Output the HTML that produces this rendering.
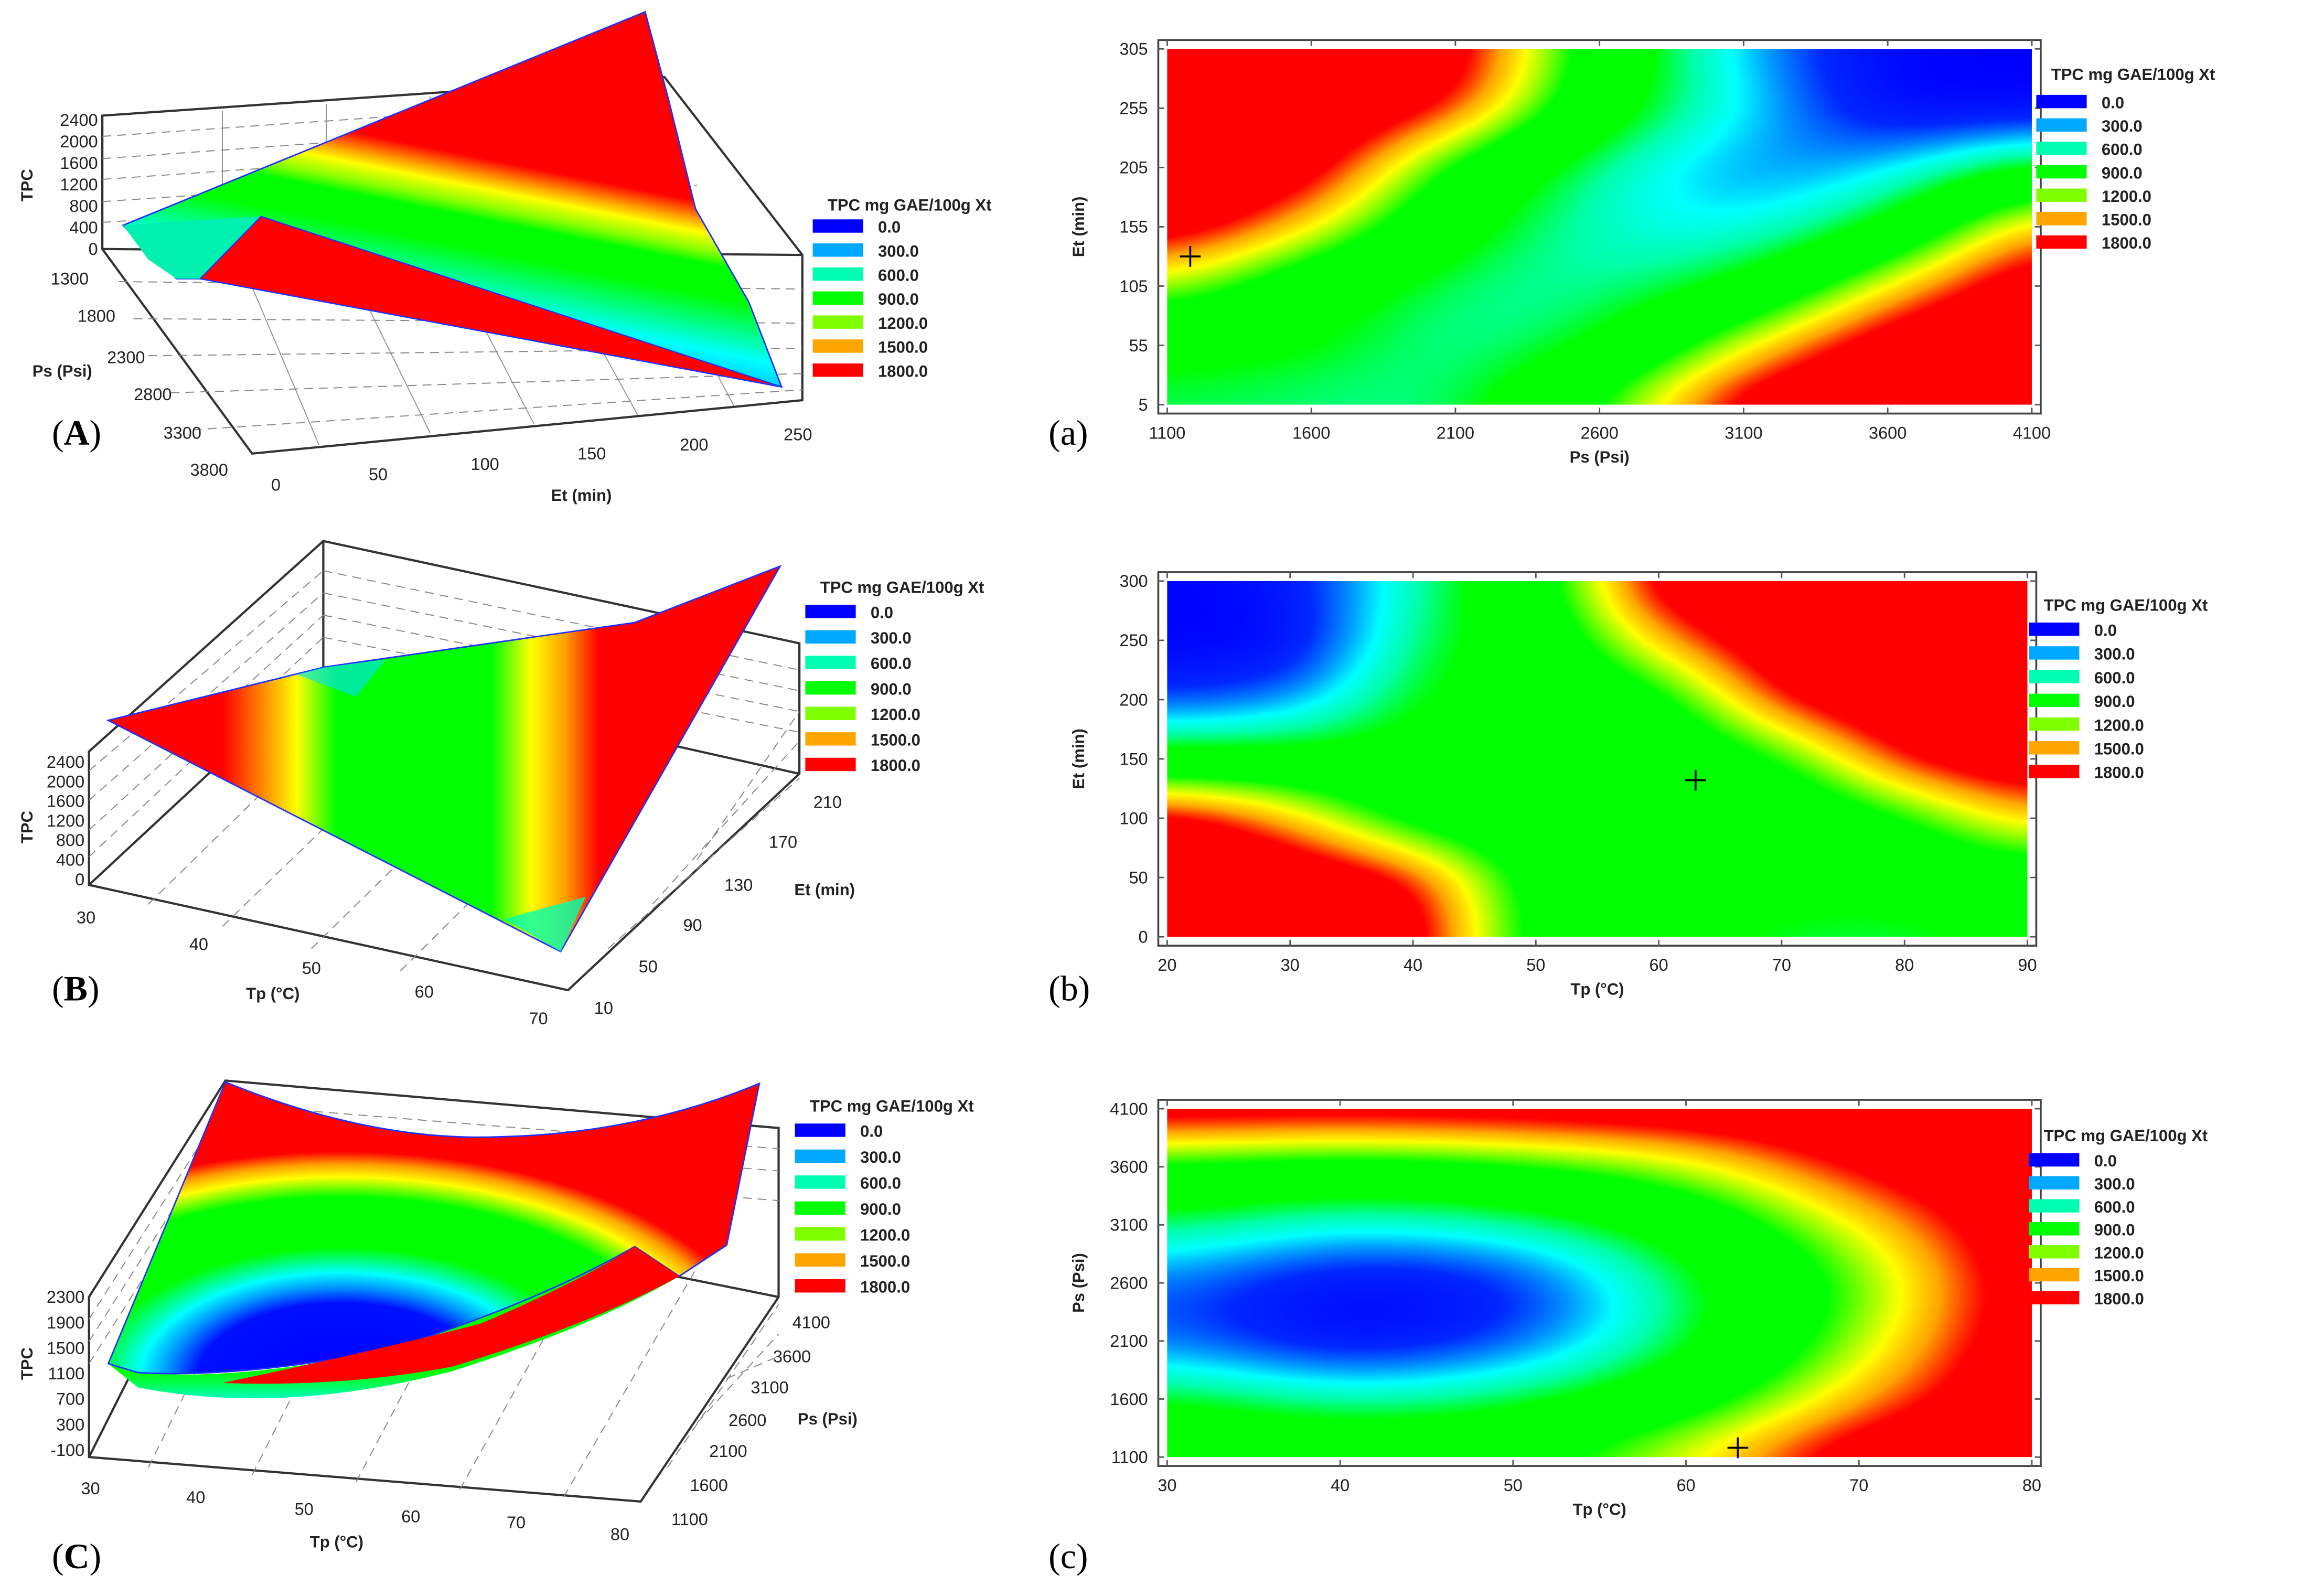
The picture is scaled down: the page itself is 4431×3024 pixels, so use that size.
<!DOCTYPE html>
<html><head><meta charset="utf-8">
<style>
html,body{margin:0;padding:0;background:#fff;overflow:hidden}
#wrap{position:absolute;left:0;top:0;width:1567px;height:1070px;transform:scale(2.8277,2.8262);transform-origin:0 0;font-family:"Liberation Sans",Arial,sans-serif}
svg{position:absolute;left:0;top:0}
canvas{position:absolute}
.t{font-family:"Liberation Sans",Arial,sans-serif;font-size:11.5px;fill:#222}
.b{font-weight:bold;font-size:11px;fill:#222}
.lab{font-family:"Liberation Serif",serif;font-size:24px;fill:#000}
</style></head><body>
<div id="wrap">
<canvas id="ca" style="left:787px;top:33px;width:583px;height:240px"></canvas>
<canvas id="cb" style="left:787px;top:392px;width:580px;height:240px"></canvas>
<canvas id="cc" style="left:787px;top:748px;width:583px;height:235px"></canvas>
<svg id="s" width="1567" height="1070" viewBox="0 0 1567 1070">
<defs>
<linearGradient id="gA" gradientUnits="userSpaceOnUse" x1="270" y1="60" x2="230" y2="260">
<stop offset="0" stop-color="#ff0000"/><stop offset="0.17" stop-color="#ff0000"/><stop offset="0.23" stop-color="#ffa000"/><stop offset="0.27" stop-color="#ffff00"/><stop offset="0.33" stop-color="#80ff00"/><stop offset="0.37" stop-color="#00ff00"/><stop offset="0.47" stop-color="#00ff00"/><stop offset="0.65" stop-color="#00ffff"/><stop offset="0.8" stop-color="#00a0ff"/><stop offset="0.95" stop-color="#0000ff"/></linearGradient>
<linearGradient id="gB" gradientUnits="userSpaceOnUse" x1="73" y1="0" x2="526" y2="0">
<stop offset="0" stop-color="#ff0000"/><stop offset="0.17" stop-color="#ff0000"/><stop offset="0.24" stop-color="#ffa000"/><stop offset="0.28" stop-color="#ffff00"/><stop offset="0.34" stop-color="#00ff00"/><stop offset="0.57" stop-color="#00ff00"/><stop offset="0.63" stop-color="#ffff00"/><stop offset="0.68" stop-color="#ffa000"/><stop offset="0.73" stop-color="#ff0000"/><stop offset="1" stop-color="#ff0000"/></linearGradient>
<radialGradient id="gC" gradientUnits="userSpaceOnUse" cx="230" cy="930" r="170" gradientTransform="translate(230,930) scale(1.9,1) translate(-230,-930)">
<stop offset="0" stop-color="#0000ff"/><stop offset="0.3" stop-color="#0010ff"/><stop offset="0.36" stop-color="#0090ff"/><stop offset="0.42" stop-color="#00ffff"/><stop offset="0.52" stop-color="#00ff00"/><stop offset="0.72" stop-color="#00ff00"/><stop offset="0.8" stop-color="#ffff00"/><stop offset="0.85" stop-color="#ffa000"/><stop offset="0.9" stop-color="#ff0000"/><stop offset="1" stop-color="#ff0000"/></radialGradient>
<linearGradient id="gRim" gradientUnits="userSpaceOnUse" x1="0" y1="925" x2="0" y2="945">
<stop offset="0" stop-color="#00ff00"/><stop offset="0.5" stop-color="#00ff60"/><stop offset="1" stop-color="#00ffd0"/></linearGradient>
</defs>
<g id="g3d"></g>
<g id="gax"></g>
<g id="gleg"></g>
<text class="lab" x="35" y="300">(<tspan font-weight="bold">A</tspan>)</text>
<text class="lab" x="707" y="300">(a)</text>
<text class="lab" x="35" y="675">(<tspan font-weight="bold">B</tspan>)</text>
<text class="lab" x="707" y="675">(b)</text>
<text class="lab" x="35" y="1058">(<tspan font-weight="bold">C</tspan>)</text>
<text class="lab" x="707" y="1058">(c)</text>
</svg>
</div>
<script>
// ---- data: contour a (Ps x Et) ----
const aX=[1100,1600,2100,2600,3100,3600,4100];
const aY=[305,255,205,155,105,55,5];
const aZ=[[1800,1800,1800,1000,400,0,0],[1800,1800,1700,900,500,0,0],[1800,1800,1050,600,300,400,900],[1800,1450,850,550,450,800,1600],[1350,900,650,600,800,1450,1800],[850,800,600,750,1400,1800,1800],[700,650,650,1200,1800,1800,1800]];
const aTicksX=[1100,1600,2100,2600,3100,3600,4100];
const aTicksY=[5,55,105,155,205,255,305];
const aCross=[1180,130];
// ---- contour b (Tp x Et) ----
const bX=[20,30,40,50,60,70,80,90];
const bY=[300,250,200,150,100,50,0];
const bZ=[[0,100,600,1000,1800,1800,1800,1800],[0,0,700,900,1500,1800,1800,1800],[200,300,800,900,1000,1700,1800,1800],[900,900,900,900,900,1100,1700,1800],[1800,1500,1000,900,900,900,1100,1500],[1800,1800,1700,1000,900,900,900,1000],[1800,1800,1800,1000,900,700,700,800]];
const bTicksX=[20,30,40,50,60,70,80,90];
const bTicksY=[0,50,100,150,200,250,300];
const bCross=[63,132];
// ---- contour c (Tp x Ps) ----
const cX=[30,40,50,60,70,80];
const cY=[4100,3600,3100,2600,2100,1600,1100];
const cZ=[[1800,1800,1800,1800,1800,1800],[1100,1000,1100,1300,1700,1800],[700,500,600,900,1400,1800],[300,0,100,700,1200,1800],[300,0,200,700,1300,1800],[800,600,700,1000,1500,1800],[1100,1000,1100,1400,1800,1800]];
const cTicksX=[30,40,50,60,70,80];
const cTicksY=[1100,1600,2100,2600,3100,3600,4100];
const cCross=[63,1180];
// ---- legend ----
const legVals=["0.0","300.0","600.0","900.0","1200.0","1500.0","1800.0"];
const legCols=["#0000ff","#00a8ff","#00ffb0","#00ff00","#80ff00","#ffa500","#ff0000"];

const NS="http://www.w3.org/2000/svg";
function mk(tag,attrs,parent,txt){const e=document.createElementNS(NS,tag);for(const k in attrs)e.setAttribute(k,attrs[k]);if(txt!==undefined)e.textContent=txt;parent.appendChild(e);return e;}
const stops=[[0,0,0,255],[200,0,40,255],[350,0,150,255],[480,0,255,255],[620,0,255,170],[780,0,255,0],[1150,0,255,0],[1280,150,255,0],[1380,255,255,0],[1500,255,165,0],[1620,255,0,0]];
function cmap(v){if(v<=0)return[0,0,255];if(v>=1620)return[255,0,0];for(let i=1;i<stops.length;i++){if(v<=stops[i][0]){const a=stops[i-1],b=stops[i],t=(v-a[0])/(b[0]-a[0]);return[a[1]+(b[1]-a[1])*t,a[2]+(b[2]-a[2])*t,a[3]+(b[3]-a[3])*t];}}}
function bil(Z,u,v){const R=Z.length,C=Z[0].length;const c0=Math.min(C-2,Math.floor(u)),r0=Math.min(R-2,Math.floor(v));const tu=u-c0,tv=v-r0;
  return (Z[r0][c0]*(1-tu)+Z[r0][c0+1]*tu)*(1-tv)+(Z[r0+1][c0]*(1-tu)+Z[r0+1][c0+1]*tu)*tv;}
function boxBlur(F,w,h,rx,ry){
  const T=new Float32Array(w*h);
  for(let y=0;y<h;y++){for(let x=0;x<w;x++){let s=0,n=0;for(let k=-rx;k<=rx;k++){const xx=Math.max(0,Math.min(w-1,x+k));s+=F[y*w+xx];n++;}T[y*w+x]=s/n;}}
  for(let x=0;x<w;x++){for(let y=0;y<h;y++){let s=0,n=0;for(let k=-ry;k<=ry;k++){const yy=Math.max(0,Math.min(h-1,y+k));s+=T[yy*w+x];n++;}F[y*w+x]=s/n;}}
}
function heat(id,Z){const cv=document.getElementById(id);const w=Math.round(parseFloat(cv.style.width)),h=Math.round(parseFloat(cv.style.height));cv.width=w;cv.height=h;const ctx=cv.getContext('2d');const C=Z[0].length,R=Z.length;
  const F=new Float32Array(w*h);
  for(let y=0;y<h;y++)for(let x=0;x<w;x++)F[y*w+x]=bil(Z,x/(w-1)*(C-1),y/(h-1)*(R-1));
  const rx=Math.round(w/(C-1)*0.45),ry=Math.round(h/(R-1)*0.45);
  boxBlur(F,w,h,rx,ry);boxBlur(F,w,h,rx,ry);
  const im=ctx.createImageData(w,h);
  for(let i=0;i<w*h;i++){const c=cmap(F[i]);im.data[i*4]=c[0];im.data[i*4+1]=c[1];im.data[i*4+2]=c[2];im.data[i*4+3]=255;}
  ctx.putImageData(im,0,0);}
heat('ca',aZ);heat('cb',bZ);heat('cc',cZ);

const gax=document.getElementById('gax');
function axes(name,x0,y0,w,h,xs,ys,xlab,ylab,cross){
  const g=mk('g',{},gax);
  const xmin=xs[0],xmax=xs[xs.length-1],ymin=ys[0],ymax=ys[ys.length-1];
  const X=v=>x0+(v-xmin)/(xmax-xmin)*w, Y=v=>y0+h-(v-ymin)/(ymax-ymin)*h;
  const fr=mk('rect',{x:x0-6,y:y0-6,width:w+12,height:h+12,fill:'none',stroke:'#444','stroke-width':1.3},g);
  xs.forEach(v=>{mk('line',{x1:X(v),x2:X(v),y1:y0+h+6,y2:y0+h+2,stroke:'#555'},g);mk('line',{x1:X(v),x2:X(v),y1:y0-6,y2:y0-2,stroke:'#555'},g);const t=mk('text',{x:X(v),y:y0+h+23,'text-anchor':'middle',class:'t'},g,v);});
  ys.forEach(v=>{mk('line',{x1:x0-6,x2:x0-2,y1:Y(v),y2:Y(v),stroke:'#555'},g);mk('line',{x1:x0+w+2,x2:x0+w+6,y1:Y(v),y2:Y(v),stroke:'#555'},g);const t=mk('text',{x:x0-13,y:Y(v)+4,'text-anchor':'end',class:'t'},g,v);});
  const xt=mk('text',{x:x0+w/2,y:y0+h+39,'text-anchor':'middle',class:'b'},g,xlab);
  const yt=mk('text',{x:0,y:0,'text-anchor':'middle',class:'b',transform:`translate(${x0-56},${y0+h/2}) rotate(-90)`},g,ylab);
  const cx=X(cross[0]),cy=Y(cross[1]);const cm=mk('path',{d:`M${cx-7},${cy}H${cx+7}M${cx},${cy-7}V${cy+7}`,stroke:'#000','stroke-width':1.3},g);
}
axes('contour-a-axes',787,33,583,240,aTicksX,aTicksY,'Ps (Psi)','Et (min)',aCross);
axes('contour-b-axes',787,392,580,240,bTicksX,bTicksY,'Tp (°C)','Et (min)',bCross);
axes('contour-c-axes',787,748,583,235,cTicksX,cTicksY,'Tp (°C)','Ps (Psi)',cCross);

const gleg=document.getElementById('gleg');
function legend(name,x,ty,y0,step){const g=mk('g',{},gleg);
  const t=mk('text',{x:x+10,y:ty,class:'b'},g,'TPC mg GAE/100g Xt');
  legVals.forEach((v,i)=>{const r=mk('rect',{x:x,y:y0+i*step-5,width:34,height:9,fill:legCols[i]},g);
   const tx=mk('text',{x:x+44,y:y0+i*step+4,class:'b'},g,v);});}
legend('legend-A',548,142,153,16.2);legend('legend-a',1373,54,69,15.8);legend('legend-B',543,400,413,17.2);
legend('legend-b',1368,412,425,16);legend('legend-C',536,750,763,17.5);legend('legend-c',1368,770,783,15.5);

// ---- 3D surface sketches ----
const g3=document.getElementById('g3d');
function P(d,attrs,name){const e=mk('path',Object.assign({d:d},attrs),g3);return e;}
function T(x,y,s,name,anchor,bold){const e=mk('text',{x:x,y:y,class:bold?'b':'t','text-anchor':anchor||'middle'},g3,s);return e;}
const grid={stroke:'#888','stroke-width':0.7,fill:'none','stroke-dasharray':'6,4'};
const gridS={stroke:'#888','stroke-width':0.6,fill:'none'};
const box={stroke:'#333','stroke-width':1.5,fill:'none'};
// A
P('M69,78L448,52L541,172L541,270L170,306L69,168Z M69,78V168 M69,168L541,172',box,'box-A');
P('M69,92L448,66 M69,107L448,80 M69,121L448,95 M69,136L448,110 M69,150L470,125 M80,190L541,195 M90,215L541,218 M100,240L541,235 M115,265L541,252 M130,290L541,263',grid,'gridlines-A');
P('M150,75V165 M220,70V165 M290,65V165 M360,60V168 M160,170L215,300 M230,170L290,292 M300,170L360,286 M370,171L430,280 M440,171L495,274',gridS,'gridlines-A2');
P('M83,152L435,8L451,68L469,141L505,204L527,261L135,188L119,188Z',{fill:'url(#gA)',stroke:'#2030ff','stroke-width':1},'surface-A');
P('M83,152L110,150L176,146L135,188L119,188L100,175Z',{fill:'#00f0b0'},'surface-A-left');
P('M176,146L135,188L527,261Z',{fill:'#ff0000',stroke:'#2030ff','stroke-width':0.8},'surface-A-wedge');
['2400','2000','1600','1200','800','400','0'].forEach((v,i)=>T(66,85+i*14.5,v,'z-tick-A','end'));
const eA=mk('text',{class:'b','text-anchor':'middle',transform:'translate(22,125) rotate(-90)'},g3,'TPC');
[['1300',47,192],['1800',65,217],['2300',85,245],['2800',103,270],['3300',123,296],['3800',141,321]].forEach(v=>T(v[1],v[2],v[0],'y-tick-A'));
T(42,254,'Ps (Psi)','y-axis-title-A','middle',true);
[['0',186,331],['50',255,324],['100',327,317],['150',399,310],['200',468,304],['250',538,297]].forEach(v=>T(v[1],v[2],v[0],'x-tick-A'));
T(392,338,'Et (min)','x-axis-title-A','middle',true);
// B
P('M60,507L218,365L539,434L539,522L383,668L60,597Z M60,507V597 M218,365V450 M60,597L218,450L539,522',box,'box-B');
P('M218,385L539,452 M218,400L539,466 M218,415L539,480 M218,430L539,494 M60,520L218,385 M60,540L218,400 M60,560L218,415 M60,578L218,430 M100,610L255,458 M150,625L310,470 M210,640L370,483 M270,655L430,496 M410,640L539,525 M440,610L539,500 M470,580L539,480',grid,'gridlines-B');
P('M73,486L219,450L428,420L526,382L378,642Z',{fill:'url(#gB)',stroke:'#2030ff','stroke-width':1},'surface-B');
P('M200,455L219,450L260,445L240,470Z',{fill:'#00e0ff',opacity:0.6},'surface-B-cyan');
P('M340,620L378,642L395,605Z',{fill:'#00ffb0',opacity:0.8},'surface-B-tip');
['2400','2000','1600','1200','800','400','0'].forEach((v,i)=>T(57,518+i*13.2,v,'z-tick-B','end'));
const eB=mk('text',{class:'b','text-anchor':'middle',transform:'translate(22,558) rotate(-90)'},g3,'TPC');
[['30',58,623],['40',134,641],['50',210,657],['60',286,673],['70',363,691]].forEach(v=>T(v[1],v[2],v[0],'x-tick-B'));
T(184,674,'Tp (°C)','x-axis-title-B','middle',true);
[['10',407,684],['50',437,656],['90',467,628],['130',498,601],['170',528,572],['210',558,545]].forEach(v=>T(v[1],v[2],v[0],'y-tick-B'));
T(556,604,'Et (min)','y-axis-title-B','middle',true);
// C
P('M60,875L152,729L525,761L525,875L432,1013L60,983Z M60,875V983 M152,729V800 M60,983L152,800L525,875',box,'box-C');
P('M152,745L525,775 M152,760L525,790 M152,780L525,810 M60,890L152,745 M60,905L152,760 M60,920L152,775 M100,990L190,808 M170,995L260,818 M240,1000L330,830 M310,1005L400,843 M380,1010L470,855 M450,990L525,880 M470,960L525,900 M490,930L525,915',grid,'gridlines-C');
P('M73,920L93,936Q190,955 305,925Q400,895 458,861L428,841Q360,880 260,911Q160,932 93,926Z',{fill:'url(#gRim)'},'surface-C-rim');
P('M152,730Q250,770 335,767Q430,765 512,731L490,840L458,861L428,841Q360,880 260,911Q160,930 93,926L73,920Z',{fill:'url(#gC)',stroke:'#2030ff','stroke-width':1},'surface-C');
P('M428,841L458,861Q400,893 305,922Q230,936 150,933Q250,912 324,893Q390,865 428,841Z',{fill:'#ff0000'},'surface-C-wedge');
['2300','1900','1500','1100','700','300','-100'].forEach((v,i)=>T(57,879+i*17.2,v,'z-tick-C','end'));
const eC=mk('text',{class:'b','text-anchor':'middle',transform:'translate(22,920) rotate(-90)'},g3,'TPC');
[['30',61,1008],['40',132,1014],['50',205,1022],['60',277,1027],['70',348,1031],['80',418,1039]].forEach(v=>T(v[1],v[2],v[0],'x-tick-C'));
T(227,1044,'Tp (°C)','x-axis-title-C','middle',true);
[['1100',465,1029],['1600',478,1006],['2100',491,983],['2600',504,962],['3100',519,940],['3600',534,919],['4100',547,896]].forEach(v=>T(v[1],v[2],v[0],'y-tick-C'));
T(558,961,'Ps (Psi)','y-axis-title-C','middle',true);
</script>
</body></html>
